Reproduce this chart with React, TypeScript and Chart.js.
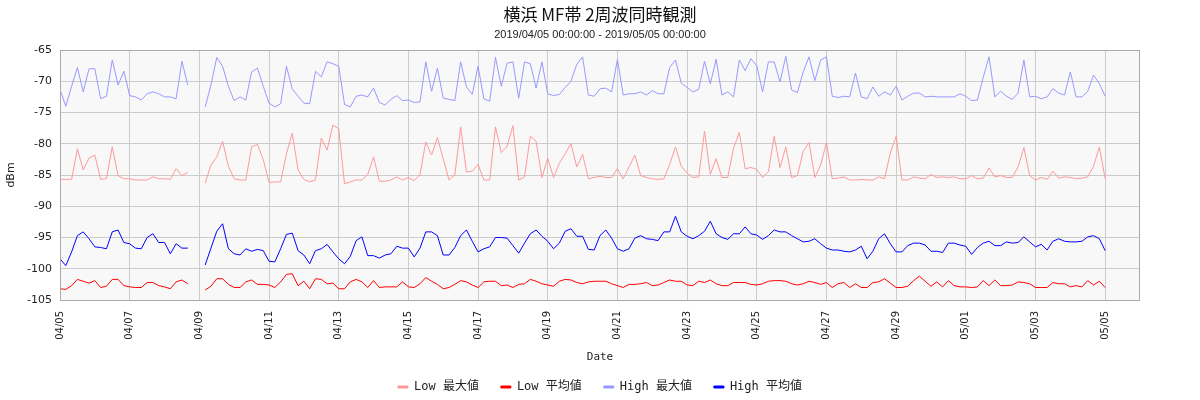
import React, { useEffect, useRef } from 'react'
import { Chart, registerables } from 'chart.js'

Chart.register(...registerables)

// one sample every 4 hours from 2019/04/05 00:00, 181 samples, axis runs one day past the last one
const startDate = Date.UTC(2019, 3, 5)
const stepHours = 4
const xMax = 186

const lowMax = [
  -85.7, -85.7, -85.7, -80.8, -84.2, -82.3, -81.8, -85.7, -85.6, -80.5, -85.1, -85.6,
  -85.6, -85.8, -85.8, -85.8, -85.3, -85.6, -85.6, -85.7, -84.0, -85.1, -84.6, null,
  null, -86.3, -83.4, -82.1, -79.6, -83.6, -85.6, -85.8, -85.8, -80.5, -80.1, -82.5,
  -86.2, -86.1, -86.1, -81.6, -78.3, -84.2, -85.7, -86.1, -85.8, -79.1, -81.0, -77.0,
  -77.6, -86.4, -86.1, -85.8, -85.8, -84.9, -82.1, -86.0, -86.0, -85.8, -85.3, -85.8,
  -85.4, -85.9, -84.9, -79.7, -81.8, -79.0, -82.4, -85.8, -85.0, -77.3, -84.5, -84.4,
  -83.3, -85.8, -85.8, -77.3, -81.4, -80.4, -77.1, -85.8, -85.3, -78.8, -79.6, -85.4,
  -82.3, -85.4, -83.1, -81.6, -80.0, -83.7, -81.7, -85.6, -85.4, -85.2, -85.4, -85.4,
  -84.0, -85.6, -83.7, -81.8, -85.1, -85.4, -85.6, -85.7, -85.6, -83.3, -80.5, -83.6,
  -84.7, -85.4, -85.3, -78.0, -84.9, -82.4, -85.4, -85.4, -80.7, -78.2, -84.0, -83.8,
  -84.1, -85.4, -84.5, -78.8, -83.8, -80.5, -85.4, -85.1, -81.2, -79.8, -85.4, -83.4,
  -79.8, -85.6, -85.5, -85.3, -85.8, -85.8, -85.7, -85.8, -85.8, -85.3, -85.6, -81.5,
  -78.8, -85.8, -85.8, -85.3, -85.5, -85.6, -84.9, -85.4, -85.3, -85.4, -85.3, -85.6,
  -85.6, -85.1, -85.6, -85.5, -83.9, -85.3, -85.1, -85.4, -85.4, -83.7, -80.6, -85.1,
  -85.8, -85.4, -85.7, -84.4, -85.5, -85.3, -85.4, -85.6, -85.5, -85.3, -83.6, -80.5,
  -85.6,
]

const lowAvg = [
  -103.2, -103.3, -102.7, -101.7, -102.0, -102.3, -101.9, -103.0, -102.8, -101.7, -101.7, -102.7,
  -102.9, -103.0, -103.0, -102.2, -102.2, -102.7, -102.9, -103.2, -102.1, -101.8, -102.4, null,
  null, -103.4, -102.8, -101.6, -101.6, -102.5, -103.0, -103.0, -102.1, -101.8, -102.5, -102.5,
  -102.6, -103.0, -102.1, -100.9, -100.8, -102.7, -102.0, -103.2, -101.6, -101.7, -102.4, -102.3,
  -103.2, -103.2, -102.1, -101.7, -102.1, -103.0, -101.9, -103.0, -102.9, -102.9, -102.9, -102.1,
  -102.9, -103.0, -102.4, -101.4, -102.0, -102.5, -103.2, -103.0, -102.5, -101.9, -102.1, -102.6,
  -103.0, -102.1, -102.0, -102.0, -102.7, -102.6, -103.0, -102.5, -102.4, -101.7, -102.0, -102.4,
  -102.6, -102.8, -102.0, -101.7, -101.8, -102.2, -102.4, -102.1, -102.0, -102.0, -102.0, -102.4,
  -102.7, -103.0, -102.5, -102.5, -102.4, -102.2, -102.7, -102.6, -102.2, -101.8, -102.0, -102.0,
  -102.6, -102.7, -102.0, -102.2, -101.8, -102.4, -102.7, -102.7, -102.2, -102.2, -102.2, -102.5,
  -102.6, -102.4, -102.0, -101.9, -101.9, -102.0, -102.4, -102.6, -102.4, -102.0, -102.2, -102.5,
  -102.2, -103.0, -102.4, -102.2, -103.0, -102.4, -103.0, -103.0, -102.2, -102.1, -101.6, -102.3,
  -103.0, -103.0, -102.8, -101.9, -101.2, -102.0, -102.8, -102.1, -102.9, -101.9, -102.7, -102.9,
  -102.9, -103.0, -102.9, -101.9, -102.7, -101.8, -102.7, -102.7, -102.6, -102.1, -102.2, -102.4,
  -103.0, -103.0, -103.0, -102.2, -102.4, -102.4, -102.9, -102.7, -102.9, -101.9, -102.6, -102.0,
  -103.0,
]

const highMax = [
  -71.3, -74.0, -70.8, -67.8, -71.7, -68.0, -68.0, -72.8, -72.4, -66.6, -70.6, -68.4,
  -72.3, -72.5, -73.0, -72.0, -71.7, -72.0, -72.5, -72.5, -72.8, -66.8, -70.6, null,
  null, -74.1, -70.6, -66.2, -67.6, -70.8, -73.1, -72.5, -73.0, -68.5, -67.9, -70.8,
  -73.5, -74.1, -73.6, -67.6, -71.2, -72.4, -73.5, -73.6, -68.4, -69.3, -66.9, -67.2,
  -67.6, -73.7, -74.1, -72.4, -72.2, -72.5, -71.1, -73.4, -73.8, -72.9, -72.3, -73.1,
  -73.0, -73.4, -73.3, -66.9, -71.6, -67.9, -72.7, -72.9, -73.1, -66.9, -70.9, -72.1,
  -67.6, -72.8, -73.2, -66.2, -70.8, -67.1, -66.9, -72.7, -66.9, -67.2, -71.1, -66.9,
  -72.0, -72.3, -72.1, -71.0, -70.0, -67.3, -66.1, -72.2, -72.4, -71.2, -71.1, -71.7,
  -66.5, -72.2, -72.0, -72.0, -71.7, -72.2, -71.5, -72.0, -72.0, -67.8, -66.6, -70.3,
  -71.0, -71.7, -71.3, -66.8, -70.4, -66.5, -72.2, -71.7, -72.5, -66.6, -68.3, -66.4,
  -67.5, -71.7, -66.9, -66.9, -70.1, -66.0, -71.4, -71.8, -68.5, -66.1, -69.9, -66.6,
  -66.1, -72.4, -72.6, -72.4, -72.5, -68.7, -72.5, -72.8, -70.9, -72.4, -71.7, -72.2,
  -70.8, -73.0, -72.4, -71.9, -71.9, -72.5, -72.4, -72.5, -72.5, -72.5, -72.5, -72.0,
  -72.4, -73.1, -73.0, -69.4, -66.1, -72.5, -71.6, -72.4, -72.9, -71.9, -66.6, -72.5,
  -72.4, -72.8, -72.5, -71.2, -71.9, -72.2, -68.5, -72.5, -72.5, -71.6, -69.0, -70.4,
  -72.4,
]

const highAvg = [
  -98.4, -99.5, -97.3, -94.7, -94.1, -95.2, -96.5, -96.6, -96.8, -94.1, -93.8, -95.8,
  -96.0, -96.7, -96.8, -95.0, -94.4, -95.8, -95.8, -97.6, -96.0, -96.7, -96.7, null,
  null, -99.4, -96.7, -94.0, -92.8, -96.8, -97.6, -97.8, -96.8, -97.2, -96.9, -97.1,
  -98.8, -98.9, -96.8, -94.5, -94.3, -97.1, -97.8, -99.2, -97.1, -96.8, -96.1, -97.3,
  -98.4, -99.2, -98.0, -95.5, -94.9, -97.9, -97.9, -98.3, -97.8, -97.6, -96.4, -96.7,
  -96.7, -98.1, -96.7, -94.1, -94.1, -94.7, -97.8, -97.8, -96.6, -94.7, -93.8, -95.6,
  -97.3, -96.8, -96.5, -95.0, -95.0, -95.1, -96.3, -97.5, -95.9, -94.4, -93.8, -94.8,
  -95.6, -96.8, -95.9, -94.0, -93.6, -94.8, -94.8, -96.9, -97.0, -94.7, -93.8, -95.1,
  -96.8, -97.2, -96.8, -95.1, -94.7, -95.2, -95.3, -95.5, -94.1, -94.1, -91.6, -94.1,
  -94.8, -95.2, -94.7, -94.0, -92.4, -94.4, -95.0, -95.3, -94.4, -94.4, -93.3, -94.4,
  -94.6, -95.3, -94.7, -93.8, -94.1, -94.1, -94.7, -95.2, -95.7, -95.6, -95.2, -96.0,
  -96.7, -97.0, -97.0, -97.2, -97.3, -97.0, -96.4, -98.4, -97.2, -95.2, -94.4, -96.0,
  -97.3, -97.3, -96.3, -95.9, -95.9, -96.2, -97.2, -97.2, -97.4, -95.9, -95.9, -96.2,
  -96.4, -97.7, -96.6, -95.9, -95.6, -96.3, -96.3, -95.7, -95.9, -95.8, -94.9, -95.7,
  -96.5, -96.1, -97.0, -95.6, -95.2, -95.6, -95.7, -95.7, -95.6, -94.9, -94.7, -95.2,
  -97.1,
]

const seriesLabels = ['Low 最大値', 'Low 平均値', 'High 最大値', 'High 平均値']
const seriesColors = ['#ff9999', '#ff0000', '#9999ff', '#0000ff']
const seriesValues = [lowMax, lowAvg, highMax, highAvg]

const yTicks = { min: -105, max: -65, step: 5 }

const toPoints = (values: (number | null)[]) => values.map((y, i) => ({ x: i, y }))

const dateLabel = (v: number) => {
  const d = new Date(startDate + v * stepHours * 3600 * 1000)
  const mm = String(d.getUTCMonth() + 1).padStart(2, '0')
  const dd = String(d.getUTCDate()).padStart(2, '0')
  return `${mm}/${dd}`
}

// grey plot background and frame
const plotFrame = {
  id: 'plotFrame',
  beforeDraw(chart: any) {
    const { ctx, chartArea: { left, top, width, height } } = chart
    ctx.save()
    ctx.fillStyle = '#f8f8f8'
    ctx.fillRect(left, top, width, height)
    ctx.restore()
  },
  afterDatasetsDraw(chart: any) {
    const { ctx, chartArea: { left, top, width, height } } = chart
    ctx.save()
    ctx.strokeStyle = '#aaaaaa'
    ctx.lineWidth = 1
    ctx.strokeRect(Math.round(left) + 0.5, Math.round(top) + 0.5, Math.round(width) - 1, Math.round(height))
    ctx.restore()
  },
}

export default function App() {
  const canvasRef = useRef<HTMLCanvasElement>(null)

  useEffect(() => {
    if (!canvasRef.current) return

    const chart = new Chart(canvasRef.current, {
      type: 'line',
      data: {
        datasets: seriesValues.map((values, i) => ({
          label: seriesLabels[i],
          data: toPoints(values),
          borderColor: seriesColors[i],
          backgroundColor: seriesColors[i],
          borderWidth: 1,
          pointRadius: 0,
          tension: 0,
          spanGaps: false,
        })),
      },
      options: {
        responsive: true,
        maintainAspectRatio: false,
        animation: false,
        layout: { padding: { left: 0, right: 0, top: 0, bottom: -3 } },
        font: { family: "'DejaVu Sans', sans-serif" },
        color: '#222',
        scales: {
          x: {
            type: 'linear',
            min: 0,
            max: xMax,
            afterFit: (scale: any) => { scale.height = 59 },
            grid: { color: '#cccccc', drawTicks: false },
            border: { display: false },
            ticks: {
              stepSize: 12,
              includeBounds: false,
              autoSkip: false,
              minRotation: 90,
              maxRotation: 90,
              padding: 11,
              color: '#222',
              font: { size: 10 },
              callback: (v: any) => dateLabel(Number(v)),
            },
            title: {
              display: true,
              text: 'Date',
              color: '#222',
              font: { family: "'DejaVu Sans Mono', monospace", size: 11 },
              padding: { top: 0, bottom: -5 },
            },
          },
          y: {
            min: yTicks.min,
            max: yTicks.max,
            afterFit: (scale: any) => { scale.width = 60 },
            grid: { color: '#cccccc', drawTicks: false },
            border: { display: false },
            ticks: {
              stepSize: yTicks.step,
              padding: 8,
              color: '#222',
              font: { size: 11 },
            },
            title: {
              display: true,
              text: 'dBm',
              color: '#222',
              font: { size: 11 },
              padding: { top: 5, bottom: 0 },
            },
          },
          // empty right-hand margin so the plot ends at the same place as in the original
          yRight: {
            position: 'right',
            min: yTicks.min,
            max: yTicks.max,
            afterFit: (scale: any) => { scale.width = 60 },
            grid: { display: false },
            border: { display: false },
            ticks: { display: false },
          },
        },
        plugins: {
          title: {
            display: true,
            text: '横浜 MF帯 2周波同時観測',
            color: '#111',
            font: { family: "'Noto Sans CJK JP', sans-serif", size: 17, weight: 'normal' },
            padding: { top: 4, bottom: 0 },
          },
          subtitle: {
            display: true,
            text: '2019/04/05 00:00:00 - 2019/05/05 00:00:00',
            color: '#222',
            font: { size: 11 },
            padding: { top: 4, bottom: 8.4 },
          },
          legend: {
            position: 'bottom',
            labels: {
              boxWidth: 10,
              boxHeight: 2,
              padding: 22,
              color: '#222',
              font: { family: "'DejaVu Sans Mono', 'Noto Sans CJK JP', monospace", size: 12 },
            },
          },
          tooltip: { enabled: false },
        },
      },
      plugins: [plotFrame],
    })

    return () => chart.destroy()
  }, [])

  return (
    <div style={{ position: 'absolute', left: 0, top: 0, width: 1200, height: 400, background: '#fff' }}>
      <canvas ref={canvasRef}></canvas>
    </div>
  )
}
